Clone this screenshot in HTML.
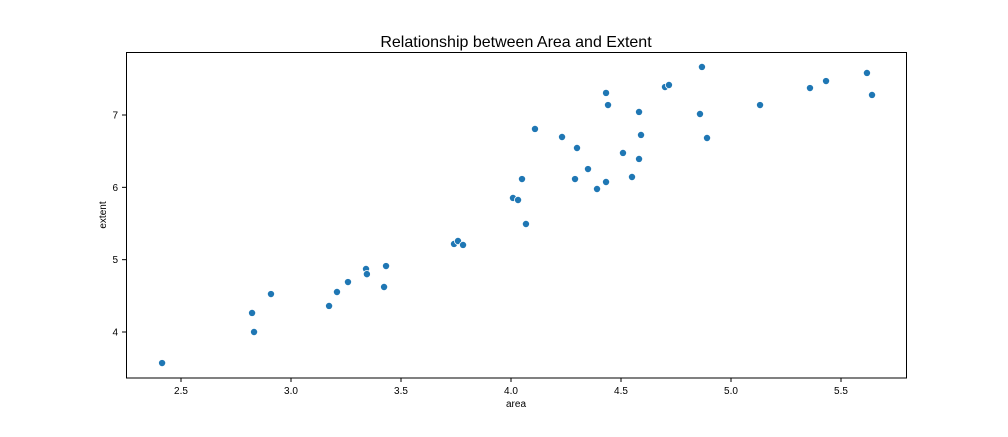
<!DOCTYPE html>
<html><head><meta charset="utf-8"><style>
body{margin:0;background:#fff;font-family:"Liberation Sans",sans-serif}
</style></head><body>
<svg id="chart" width="1008" height="432" xmlns="http://www.w3.org/2000/svg">
<text x="516" y="47" text-anchor="middle" font-size="16">Relationship between Area and Extent</text>
<g id="axes"></g>
<g id="points"></g>
<rect x="126.5" y="52.5" width="780" height="325.5" fill="none" stroke="#000" stroke-width="1"/>
<text x="516" y="407" text-anchor="middle" font-size="10">area</text>
<text transform="translate(106,215) rotate(-90)" text-anchor="middle" font-size="10">extent</text>
</svg>
<script>
const areaValues=[2.414,2.823,2.832,2.909,3.173,3.209,3.259,3.341,3.345,3.423,3.432,3.741,3.759,3.782,4.009,4.032,4.05,4.068,4.109,4.232,4.291,4.3,4.35,4.391,4.432,4.432,4.441,4.509,4.55,4.582,4.582,4.591,4.7,4.718,4.859,4.868,4.891,5.132,5.359,5.432,5.618,5.641];
const extentValues=[3.571,4.263,4.0,4.525,4.36,4.553,4.691,4.871,4.80,4.622,4.912,5.217,5.258,5.203,5.853,5.825,6.115,5.493,6.807,6.696,6.115,6.544,6.253,5.977,6.074,7.305,7.138,6.475,6.143,6.392,7.042,6.724,7.387,7.415,7.014,7.664,6.682,7.138,7.373,7.47,7.581,7.277];
const xTicks=[2.5,3.0,3.5,4.0,4.5,5.0,5.5];
const yTicks=[4,5,6,7];
const xs=v=>181+(v-2.5)*220;
const ys=v=>332-(v-4)*72.33;
const NS="http://www.w3.org/2000/svg";
const axes=document.getElementById('axes');
xTicks.forEach(t=>{
  const l=document.createElementNS(NS,'line');
  l.setAttribute('x1',xs(t));l.setAttribute('x2',xs(t));l.setAttribute('y1',378);l.setAttribute('y2',382);l.setAttribute('stroke','#000');
  
  
  axes.appendChild(l);
  const tx=document.createElementNS(NS,'text');
  tx.setAttribute('x',xs(t));tx.setAttribute('y',394);tx.setAttribute('text-anchor','middle');tx.setAttribute('font-size','10');
  tx.textContent=t.toFixed(1);
  
  
  axes.appendChild(tx);
});
yTicks.forEach(t=>{
  const l=document.createElementNS(NS,'line');
  l.setAttribute('x1',122);l.setAttribute('x2',126);l.setAttribute('y1',ys(t));l.setAttribute('y2',ys(t));l.setAttribute('stroke','#000');
  
  
  axes.appendChild(l);
  const tx=document.createElementNS(NS,'text');
  tx.setAttribute('x',118);tx.setAttribute('y',ys(t)+3.5);tx.setAttribute('text-anchor','end');tx.setAttribute('font-size','10');
  tx.textContent=t;
  
  
  axes.appendChild(tx);
});
const pts=document.getElementById('points');
areaValues.forEach((a,i)=>{
  const c=document.createElementNS(NS,'circle');
  c.setAttribute('cx',xs(a));c.setAttribute('cy',ys(extentValues[i]));c.setAttribute('r',3.6);
  c.setAttribute('fill','#1f77b4');c.setAttribute('stroke','#fff');c.setAttribute('stroke-width','0.8');
  
  
  pts.appendChild(c);
});
</script>
</body></html>
